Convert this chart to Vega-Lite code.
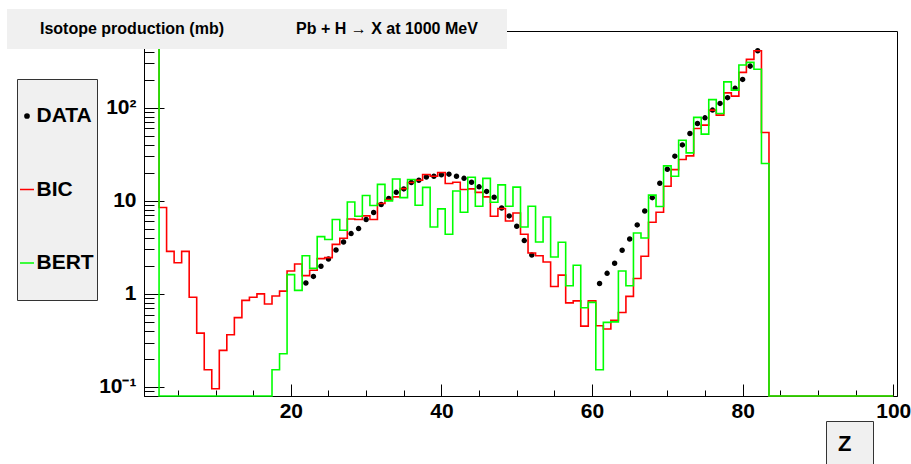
{
  "$schema": "https://vega.github.io/schema/vega-lite/v6.json",
  "width": 753,
  "height": 365,
  "autosize": {"type": "none"},
  "padding": {"left": 144, "top": 31, "right": 14, "bottom": 68},
  "background": "white",
  "config": {
    "font": "Liberation Sans",
    "view": {"stroke": "black", "strokeWidth": 1},
    "axis": {"grid": false, "domainColor": "black", "domainWidth": 1, "tickColor": "black", "tickWidth": 1, "labelColor": "black", "labelFont": "Liberation Sans", "labelFontWeight": "bold", "labelFontSize": 21},
    "legend": {"labelFont": "Liberation Sans", "titleFont": "Liberation Sans", "labelColor": "black", "titleColor": "black"}
  },
  "datasets": {
    "h": [
      {"Z": 22, "model": "DATA", "value": 1.31}, {"Z": 23, "model": "DATA", "value": 1.54}, {"Z": 24, "model": "DATA", "value": 1.98},
      {"Z": 25, "model": "DATA", "value": 2.37}, {"Z": 26, "model": "DATA", "value": 2.96}, {"Z": 27, "model": "DATA", "value": 3.61},
      {"Z": 28, "model": "DATA", "value": 4.44}, {"Z": 29, "model": "DATA", "value": 5.02}, {"Z": 30, "model": "DATA", "value": 6.28},
      {"Z": 31, "model": "DATA", "value": 7.47}, {"Z": 32, "model": "DATA", "value": 9.1}, {"Z": 33, "model": "DATA", "value": 10.6},
      {"Z": 34, "model": "DATA", "value": 12.3}, {"Z": 35, "model": "DATA", "value": 13.4}, {"Z": 36, "model": "DATA", "value": 15.7},
      {"Z": 37, "model": "DATA", "value": 16.6}, {"Z": 38, "model": "DATA", "value": 18.0}, {"Z": 39, "model": "DATA", "value": 18.3},
      {"Z": 40, "model": "DATA", "value": 19.0}, {"Z": 41, "model": "DATA", "value": 19.3}, {"Z": 42, "model": "DATA", "value": 18.3},
      {"Z": 43, "model": "DATA", "value": 17.4}, {"Z": 44, "model": "DATA", "value": 15.8}, {"Z": 45, "model": "DATA", "value": 14.1},
      {"Z": 46, "model": "DATA", "value": 12.6}, {"Z": 47, "model": "DATA", "value": 10.9}, {"Z": 48, "model": "DATA", "value": 8.37},
      {"Z": 49, "model": "DATA", "value": 6.87}, {"Z": 50, "model": "DATA", "value": 5.32}, {"Z": 51, "model": "DATA", "value": 3.73},
      {"Z": 52, "model": "DATA", "value": 2.61},
      {"Z": 61, "model": "DATA", "value": 1.29}, {"Z": 62, "model": "DATA", "value": 1.66}, {"Z": 63, "model": "DATA", "value": 2.13},
      {"Z": 64, "model": "DATA", "value": 2.94}, {"Z": 65, "model": "DATA", "value": 3.88}, {"Z": 66, "model": "DATA", "value": 5.5},
      {"Z": 67, "model": "DATA", "value": 7.77}, {"Z": 68, "model": "DATA", "value": 10.8}, {"Z": 69, "model": "DATA", "value": 15.4},
      {"Z": 70, "model": "DATA", "value": 21.8}, {"Z": 71, "model": "DATA", "value": 30.1}, {"Z": 72, "model": "DATA", "value": 39.8},
      {"Z": 73, "model": "DATA", "value": 52.8}, {"Z": 74, "model": "DATA", "value": 67.6}, {"Z": 75, "model": "DATA", "value": 77.7},
      {"Z": 76, "model": "DATA", "value": 94}, {"Z": 77, "model": "DATA", "value": 111}, {"Z": 78, "model": "DATA", "value": 128},
      {"Z": 79, "model": "DATA", "value": 161}, {"Z": 80, "model": "DATA", "value": 201}, {"Z": 81, "model": "DATA", "value": 279},
      {"Z": 82, "model": "DATA", "value": 408},

      {"Z": 1, "model": "BIC", "value": 1000}, {"Z": 2, "model": "BIC", "value": 1000}, {"Z": 3, "model": "BIC", "value": 8.45},
      {"Z": 4, "model": "BIC", "value": 2.86}, {"Z": 5, "model": "BIC", "value": 2.16}, {"Z": 6, "model": "BIC", "value": 2.86},
      {"Z": 7, "model": "BIC", "value": 0.92}, {"Z": 8, "model": "BIC", "value": 0.379}, {"Z": 9, "model": "BIC", "value": 0.153},
      {"Z": 10, "model": "BIC", "value": 0.0956}, {"Z": 11, "model": "BIC", "value": 0.247}, {"Z": 12, "model": "BIC", "value": 0.364},
      {"Z": 13, "model": "BIC", "value": 0.555}, {"Z": 14, "model": "BIC", "value": 0.851}, {"Z": 15, "model": "BIC", "value": 0.92},
      {"Z": 16, "model": "BIC", "value": 1.0}, {"Z": 17, "model": "BIC", "value": 0.777}, {"Z": 18, "model": "BIC", "value": 0.947},
      {"Z": 19, "model": "BIC", "value": 1.07}, {"Z": 20, "model": "BIC", "value": 1.76}, {"Z": 21, "model": "BIC", "value": 2.09},
      {"Z": 22, "model": "BIC", "value": 1.57}, {"Z": 23, "model": "BIC", "value": 1.79}, {"Z": 24, "model": "BIC", "value": 2.39},
      {"Z": 25, "model": "BIC", "value": 2.45}, {"Z": 26, "model": "BIC", "value": 3.4}, {"Z": 27, "model": "BIC", "value": 3.95},
      {"Z": 28, "model": "BIC", "value": 6.37}, {"Z": 29, "model": "BIC", "value": 6.28}, {"Z": 30, "model": "BIC", "value": 6.87},
      {"Z": 31, "model": "BIC", "value": 6.28}, {"Z": 32, "model": "BIC", "value": 9.33}, {"Z": 33, "model": "BIC", "value": 10.3},
      {"Z": 34, "model": "BIC", "value": 11.0}, {"Z": 35, "model": "BIC", "value": 13.5}, {"Z": 36, "model": "BIC", "value": 15.7},
      {"Z": 37, "model": "BIC", "value": 16.6}, {"Z": 38, "model": "BIC", "value": 19.1}, {"Z": 39, "model": "BIC", "value": 18.3},
      {"Z": 40, "model": "BIC", "value": 20.1}, {"Z": 41, "model": "BIC", "value": 15.3}, {"Z": 42, "model": "BIC", "value": 15.8},
      {"Z": 43, "model": "BIC", "value": 13.2}, {"Z": 44, "model": "BIC", "value": 13.4}, {"Z": 45, "model": "BIC", "value": 12.3},
      {"Z": 46, "model": "BIC", "value": 11.0}, {"Z": 47, "model": "BIC", "value": 6.81}, {"Z": 48, "model": "BIC", "value": 8.24},
      {"Z": 49, "model": "BIC", "value": 6.07}, {"Z": 50, "model": "BIC", "value": 7.39}, {"Z": 51, "model": "BIC", "value": 4.36},
      {"Z": 52, "model": "BIC", "value": 2.75}, {"Z": 53, "model": "BIC", "value": 2.57}, {"Z": 54, "model": "BIC", "value": 2.2},
      {"Z": 55, "model": "BIC", "value": 1.2}, {"Z": 56, "model": "BIC", "value": 1.59}, {"Z": 57, "model": "BIC", "value": 0.8},
      {"Z": 58, "model": "BIC", "value": 0.84}, {"Z": 59, "model": "BIC", "value": 0.45}, {"Z": 60, "model": "BIC", "value": 0.84},
      {"Z": 61, "model": "BIC", "value": 0.455}, {"Z": 62, "model": "BIC", "value": 0.42}, {"Z": 63, "model": "BIC", "value": 0.52},
      {"Z": 64, "model": "BIC", "value": 0.63}, {"Z": 65, "model": "BIC", "value": 0.94}, {"Z": 66, "model": "BIC", "value": 1.46},
      {"Z": 67, "model": "BIC", "value": 2.53}, {"Z": 68, "model": "BIC", "value": 5.87}, {"Z": 69, "model": "BIC", "value": 7.52},
      {"Z": 70, "model": "BIC", "value": 14.3}, {"Z": 71, "model": "BIC", "value": 21.6}, {"Z": 72, "model": "BIC", "value": 27.7},
      {"Z": 73, "model": "BIC", "value": 30.3}, {"Z": 74, "model": "BIC", "value": 59.7}, {"Z": 75, "model": "BIC", "value": 64.8},
      {"Z": 76, "model": "BIC", "value": 94}, {"Z": 77, "model": "BIC", "value": 83}, {"Z": 78, "model": "BIC", "value": 144},
      {"Z": 79, "model": "BIC", "value": 133}, {"Z": 80, "model": "BIC", "value": 239}, {"Z": 81, "model": "BIC", "value": 330},
      {"Z": 82, "model": "BIC", "value": 408}, {"Z": 83, "model": "BIC", "value": 54.1}, {"Z": 84, "model": "BIC", "value": 0.01},
      {"Z": 85, "model": "BIC", "value": 0.01}, {"Z": 86, "model": "BIC", "value": 0.01}, {"Z": 87, "model": "BIC", "value": 0.01},
      {"Z": 88, "model": "BIC", "value": 0.01}, {"Z": 89, "model": "BIC", "value": 0.01}, {"Z": 90, "model": "BIC", "value": 0.01},
      {"Z": 91, "model": "BIC", "value": 0.01}, {"Z": 92, "model": "BIC", "value": 0.01}, {"Z": 93, "model": "BIC", "value": 0.01},
      {"Z": 94, "model": "BIC", "value": 0.01}, {"Z": 95, "model": "BIC", "value": 0.01}, {"Z": 96, "model": "BIC", "value": 0.01},
      {"Z": 97, "model": "BIC", "value": 0.01}, {"Z": 98, "model": "BIC", "value": 0.01}, {"Z": 99, "model": "BIC", "value": 0.01},
      {"Z": 100, "model": "BIC", "value": 0.01},

      {"Z": 1, "model": "BERT", "value": 1000}, {"Z": 2, "model": "BERT", "value": 1000}, {"Z": 3, "model": "BERT", "value": 0.01},
      {"Z": 4, "model": "BERT", "value": 0.01}, {"Z": 5, "model": "BERT", "value": 0.01}, {"Z": 6, "model": "BERT", "value": 0.01},
      {"Z": 7, "model": "BERT", "value": 0.01}, {"Z": 8, "model": "BERT", "value": 0.01}, {"Z": 9, "model": "BERT", "value": 0.01},
      {"Z": 10, "model": "BERT", "value": 0.01}, {"Z": 11, "model": "BERT", "value": 0.01}, {"Z": 12, "model": "BERT", "value": 0.01},
      {"Z": 13, "model": "BERT", "value": 0.01}, {"Z": 14, "model": "BERT", "value": 0.01}, {"Z": 15, "model": "BERT", "value": 0.01},
      {"Z": 16, "model": "BERT", "value": 0.01}, {"Z": 17, "model": "BERT", "value": 0.01}, {"Z": 18, "model": "BERT", "value": 0.153},
      {"Z": 19, "model": "BERT", "value": 0.227}, {"Z": 20, "model": "BERT", "value": 1.61}, {"Z": 21, "model": "BERT", "value": 1.09},
      {"Z": 22, "model": "BERT", "value": 2.57}, {"Z": 23, "model": "BERT", "value": 1.88}, {"Z": 24, "model": "BERT", "value": 4.12},
      {"Z": 25, "model": "BERT", "value": 3.83}, {"Z": 26, "model": "BERT", "value": 6.28}, {"Z": 27, "model": "BERT", "value": 4.82},
      {"Z": 28, "model": "BERT", "value": 9.7}, {"Z": 29, "model": "BERT", "value": 6.81}, {"Z": 30, "model": "BERT", "value": 11.4},
      {"Z": 31, "model": "BERT", "value": 8.88}, {"Z": 32, "model": "BERT", "value": 15.0}, {"Z": 33, "model": "BERT", "value": 9.97},
      {"Z": 34, "model": "BERT", "value": 17.1}, {"Z": 35, "model": "BERT", "value": 10.8}, {"Z": 36, "model": "BERT", "value": 16.9},
      {"Z": 37, "model": "BERT", "value": 8.94}, {"Z": 38, "model": "BERT", "value": 13.9}, {"Z": 39, "model": "BERT", "value": 5.23},
      {"Z": 40, "model": "BERT", "value": 8.17}, {"Z": 41, "model": "BERT", "value": 4.36}, {"Z": 42, "model": "BERT", "value": 12.7},
      {"Z": 43, "model": "BERT", "value": 7.52}, {"Z": 44, "model": "BERT", "value": 17.9}, {"Z": 45, "model": "BERT", "value": 8.73},
      {"Z": 46, "model": "BERT", "value": 17.4}, {"Z": 47, "model": "BERT", "value": 9.64}, {"Z": 48, "model": "BERT", "value": 14.8},
      {"Z": 49, "model": "BERT", "value": 8.73}, {"Z": 50, "model": "BERT", "value": 14.0}, {"Z": 51, "model": "BERT", "value": 5.23},
      {"Z": 52, "model": "BERT", "value": 8.73}, {"Z": 53, "model": "BERT", "value": 3.61}, {"Z": 54, "model": "BERT", "value": 6.7},
      {"Z": 55, "model": "BERT", "value": 2.49}, {"Z": 56, "model": "BERT", "value": 3.58}, {"Z": 57, "model": "BERT", "value": 1.22},
      {"Z": 58, "model": "BERT", "value": 2.03}, {"Z": 59, "model": "BERT", "value": 0.71}, {"Z": 60, "model": "BERT", "value": 0.81},
      {"Z": 61, "model": "BERT", "value": 0.153}, {"Z": 62, "model": "BERT", "value": 0.494}, {"Z": 63, "model": "BERT", "value": 0.5},
      {"Z": 64, "model": "BERT", "value": 1.76}, {"Z": 65, "model": "BERT", "value": 1.22}, {"Z": 66, "model": "BERT", "value": 4.51},
      {"Z": 67, "model": "BERT", "value": 3.98}, {"Z": 68, "model": "BERT", "value": 11.5}, {"Z": 69, "model": "BERT", "value": 8.66},
      {"Z": 70, "model": "BERT", "value": 23.7}, {"Z": 71, "model": "BERT", "value": 18.3}, {"Z": 72, "model": "BERT", "value": 44.7},
      {"Z": 73, "model": "BERT", "value": 32.7}, {"Z": 74, "model": "BERT", "value": 78.5}, {"Z": 75, "model": "BERT", "value": 51.9},
      {"Z": 76, "model": "BERT", "value": 122}, {"Z": 77, "model": "BERT", "value": 86.6}, {"Z": 78, "model": "BERT", "value": 189},
      {"Z": 79, "model": "BERT", "value": 154}, {"Z": 80, "model": "BERT", "value": 287}, {"Z": 81, "model": "BERT", "value": 306},
      {"Z": 82, "model": "BERT", "value": 258}, {"Z": 83, "model": "BERT", "value": 25.1}, {"Z": 84, "model": "BERT", "value": 0.01},
      {"Z": 85, "model": "BERT", "value": 0.01}, {"Z": 86, "model": "BERT", "value": 0.01}, {"Z": 87, "model": "BERT", "value": 0.01},
      {"Z": 88, "model": "BERT", "value": 0.01}, {"Z": 89, "model": "BERT", "value": 0.01}, {"Z": 90, "model": "BERT", "value": 0.01},
      {"Z": 91, "model": "BERT", "value": 0.01}, {"Z": 92, "model": "BERT", "value": 0.01}, {"Z": 93, "model": "BERT", "value": 0.01},
      {"Z": 94, "model": "BERT", "value": 0.01}, {"Z": 95, "model": "BERT", "value": 0.01}, {"Z": 96, "model": "BERT", "value": 0.01},
      {"Z": 97, "model": "BERT", "value": 0.01}, {"Z": 98, "model": "BERT", "value": 0.01}, {"Z": 99, "model": "BERT", "value": 0.01},
      {"Z": 100, "model": "BERT", "value": 0.01}
    ]
  },
  "data": {"name": "h"},
  "resolve": {"axis": {"x": "independent", "y": "independent"}, "scale": {"strokeDash": "independent"}},
  "layer": [
    {
      "transform": [{"filter": {"field": "model", "equal": "DATA"}}],
      "mark": {"type": "point", "filled": false, "size": 178, "strokeWidth": 1.5, "opacity": 1},
      "encoding": {
        "x": {
          "field": "Z", "type": "quantitative",
          "scale": {"domain": [0.5, 100.5], "nice": false, "zero": false},
          "axis": {"orient": "bottom", "values": [20, 40, 60, 80, 100], "ticks": false, "labelPadding": 4, "labelFlush": false, "labelOverlap": false, "title": null}
        },
        "y": {
          "field": "value", "type": "quantitative",
          "scale": {"type": "log", "domain": [0.08, 665], "nice": false, "clamp": true},
          "axis": {"orient": "left", "values": [0.1, 1, 10, 100], "ticks": false, "labelPadding": 8, "labelOverlap": false, "title": null,
                   "labelExpr": "datum.value < 0.5 ? '10\u207b\u00b9' : datum.value > 50 ? '10\u00b2' : datum.value > 5 ? '10' : '1'"}
        },
        "color": {
          "field": "model", "type": "nominal",
          "scale": {"domain": ["DATA", "BIC", "BERT"], "range": ["#000000", "#ff0000", "#00ff00"]},
          "legend": {
            "orient": "none", "legendX": -127, "legendY": 48, "direction": "vertical", "title": null,
            "padding": 3, "clipHeight": 68, "rowPadding": 5.5, "symbolSize": 196, "symbolOffset": -3.5, "symbolStrokeWidth": 1.5,
            "labelOffset": -1, "labelFontSize": 21, "labelFontWeight": "bold", "labelColor": "black",
            "fillColor": "#f0f0f0", "strokeColor": "#333333"
          }
        },
        "fill": {
          "field": "model", "type": "nominal",
          "scale": {"domain": ["DATA", "BIC", "BERT"], "range": ["#000000", "transparent", "transparent"]},
          "legend": {"orient": "none", "legendX": -127, "legendY": 48, "direction": "vertical", "title": null}
        },
        "shape": {
          "field": "model", "type": "nominal",
          "scale": {"domain": ["DATA", "BIC", "BERT"], "range": ["M-0.3,0A0.3,0.3 0 1,0 0.3,0A0.3,0.3 0 1,0 -0.3,0Z", "stroke", "stroke"]},
          "legend": {"orient": "none", "legendX": -127, "legendY": 48, "direction": "vertical", "title": null}
        }
      }
    },
    {
      "transform": [{"filter": {"field": "model", "equal": "BIC"}}],
      "mark": {"type": "line", "interpolate": "step", "strokeWidth": 1.6},
      "encoding": {
        "x": {"field": "Z", "type": "quantitative",
              "axis": {"orient": "top", "offset": -365, "values": [20, 40, 60, 80, 100], "labels": false, "domain": false, "tickSize": 12, "title": null}},
        "y": {"field": "value", "type": "quantitative",
              "axis": {"orient": "right", "offset": -753, "values": [0.1, 1, 10, 100], "labels": false, "domain": false, "tickSize": 20, "title": null}},
        "color": {"field": "model", "type": "nominal"},
        "strokeDash": {
          "datum": "Isotope production (mb)",
          "scale": {"domain": ["Isotope production (mb)", "Pb + H \u2192 X at 1000 MeV"], "range": [[1, 0], [1, 0]]},
          "legend": {
            "orient": "none", "legendX": -137, "legendY": -22, "direction": "horizontal", "columns": 2, "columnPadding": 36,
            "title": null, "padding": 12,
            "symbolSize": 1, "symbolOpacity": 0, "symbolStrokeWidth": 0, "symbolOffset": 211,
            "labelOffset": -206, "labelFontSize": 16, "labelFontWeight": "bold", "labelColor": "black", "labelLimit": 400,
            "fillColor": "#f0f0f0"
          }
        }
      }
    },
    {
      "transform": [{"filter": {"field": "model", "equal": "BERT"}}],
      "mark": {"type": "line", "interpolate": "step", "strokeWidth": 1.6},
      "encoding": {
        "x": {"field": "Z", "type": "quantitative",
              "axis": {"orient": "top", "offset": -365, "values": [5, 10, 15, 25, 30, 35, 45, 50, 55, 65, 70, 75, 85, 90, 95], "labels": false, "domain": false, "tickSize": 6, "title": null}},
        "y": {"field": "value", "type": "quantitative",
              "axis": {"orient": "right", "offset": -753, "values": [0.09, 0.2, 0.3, 0.4, 0.5, 0.6, 0.7, 0.8, 0.9, 2, 3, 4, 5, 6, 7, 8, 9, 20, 30, 40, 50, 60, 70, 80, 90, 200, 300, 400, 500, 600], "labels": false, "domain": false, "tickSize": 10, "title": null}},
        "color": {"field": "model", "type": "nominal"},
        "strokeDash": {
          "datum": "Z",
          "scale": {"domain": ["Z"], "range": [[1, 0]]},
          "legend": {
            "orient": "none", "legendX": 682, "legendY": 390, "title": null,
            "padding": 12,
            "symbolSize": 1, "symbolOpacity": 0, "symbolStrokeWidth": 0, "symbolOffset": 11,
            "labelOffset": -33, "labelFontSize": 22, "labelFontWeight": "bold", "labelColor": "black",
            "fillColor": "#f0f0f0", "strokeColor": "#333333"
          }
        }
      }
    }
  ]
}
